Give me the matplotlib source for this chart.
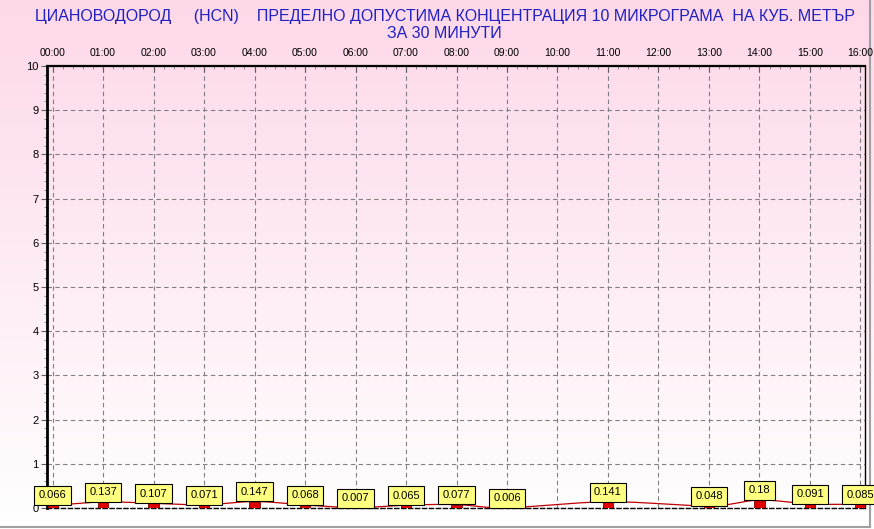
import numpy as np
import matplotlib
matplotlib.use("Agg")
import matplotlib.pyplot as plt
from matplotlib.ticker import MultipleLocator

# ---- data ----
hours = list(range(17))
hour_labels = [f"{h:02d}:00" for h in hours]
values = [0.066, 0.137, 0.107, 0.071, 0.147, 0.068, 0.007, 0.065, 0.077,
          0.006, None, 0.141, None, 0.048, 0.18, 0.091, 0.085]
title_line1 = "ЦИАНОВОДОРОД     (HCN)    ПРЕДЕЛНО ДОПУСТИМА КОНЦЕНТРАЦИЯ 10 МИКРОГРАМА  НА КУБ. МЕТЪР"
title_line2 = "ЗА 30 МИНУТИ"
y_ticks = list(range(0, 11))

plt.rcParams['font.family'] = ['Liberation Sans', 'DejaVu Sans']

W, H = 874, 529
fig = plt.figure(figsize=(W / 100, H / 100), dpi=100)

# background gradient
bg = fig.add_axes([0, 0, 1, 1], zorder=-10)
grad = np.linspace(0, 1, 256).reshape(-1, 1)
top = np.array([253, 216, 233]) / 255.0
bot = np.array([255, 255, 255]) / 255.0
t = np.clip(grad * 1.0, 0, 1)
img = top[None, None, :] * (1 - t[..., None]) + bot[None, None, :] * t[..., None]
bg.imshow(img, aspect='auto', extent=[0, 1, 0, 1], origin='upper')
bg.set_xlim(0, 1); bg.set_ylim(0, 1)
bg.axis('off')
# gray frame at right and bottom
bg.plot([0, 0.9955], [2 / H, 2 / H], color='#a0a0a0', lw=1.5)
bg.plot([0.9955, 0.9955], [2 / H, 1], color='#a0a0a0', lw=1.5)

x0, x1 = 47, 865
y0, y1 = 66, 508
ax = fig.add_axes([x0 / W, 1 - y1 / H, (x1 - x0) / W, (y1 - y0) / H])
ax.patch.set_alpha(0)
ax.set_xlim(-0.11, 16.09)
ax.set_ylim(0, 10)

ax.xaxis.tick_top()
ax.set_xticks(hours)
ax.set_xticklabels(hour_labels, fontsize=7.5)
ax.xaxis.set_minor_locator(MultipleLocator(0.2))
ax.set_yticks(y_ticks)
ax.set_yticklabels([str(v) for v in y_ticks], fontsize=8)
ax.yaxis.set_minor_locator(MultipleLocator(0.2))
ax.tick_params(axis='both', which='major', length=4, width=0.8, color='#606060')
ax.tick_params(axis='both', which='minor', length=2, width=0.6, color='#808080')
ax.tick_params(axis='x', which='both', direction='in', pad=6)
ax.tick_params(axis='y', which='both', direction='out', pad=2)

ax.grid(True, which='major', color='#808080', linestyle=(0, (4, 3)), linewidth=0.8)

for s in ax.spines.values():
    s.set_color('black')
ax.spines['left'].set_linewidth(2)
ax.spines['top'].set_linewidth(1.6)
ax.spines['top'].set_linestyle((0, (5, 1)))
ax.spines['right'].set_linewidth(1)
ax.spines['bottom'].set_linewidth(1)
ax.spines['bottom'].set_linestyle((0, (3, 2)))

# smooth line through valid points (Catmull-Rom)
vx = np.array([h for h, v in zip(hours, values) if v is not None], dtype=float)
vy = np.array([v for v in values if v is not None], dtype=float)
px = np.concatenate([[2 * vx[0] - vx[1]], vx, [2 * vx[-1] - vx[-2]]])
py = np.concatenate([[vy[0]], vy, [vy[-1]]])
sx, sy = [], []
tt = np.linspace(0, 1, 20)
for i in range(1, len(px) - 2):
    p0, p1, p2, p3 = [np.array([px[j], py[j]]) for j in range(i - 1, i + 3)]
    pts = 0.5 * ((2 * p1)[None, :] + (-p0 + p2)[None, :] * tt[:, None]
                 + (2 * p0 - 5 * p1 + 4 * p2 - p3)[None, :] * tt[:, None] ** 2
                 + (-p0 + 3 * p1 - 3 * p2 + p3)[None, :] * tt[:, None] ** 3)
    sx.extend(pts[:, 0]); sy.extend(pts[:, 1])
ax.plot(sx, sy, color='#c00000', lw=0.9, zorder=3)

# bars
ax.bar(vx, vy, width=0.2, color='#e00000', edgecolor='#800000', linewidth=0.6, zorder=4)

# labels
for x, v in zip(vx, vy):
    ax.annotate(f"{v:g}", xy=(x, v), xytext=(0, 3.3), textcoords='offset points',
                ha='center', va='bottom', fontsize=8, color='black', zorder=6,
                annotation_clip=False,
                bbox=dict(boxstyle='square,pad=0.4', fc='#ffff80', ec='black', lw=0.8))

fig.text(0.509, 1 - 16 / H, title_line1, ha='center', va='center', fontsize=11.5, color='#2020c0')
fig.text(0.509, 1 - 33 / H, title_line2, ha='center', va='center', fontsize=11.5, color='#2020c0')

fig.savefig('out.png', dpi=100)
